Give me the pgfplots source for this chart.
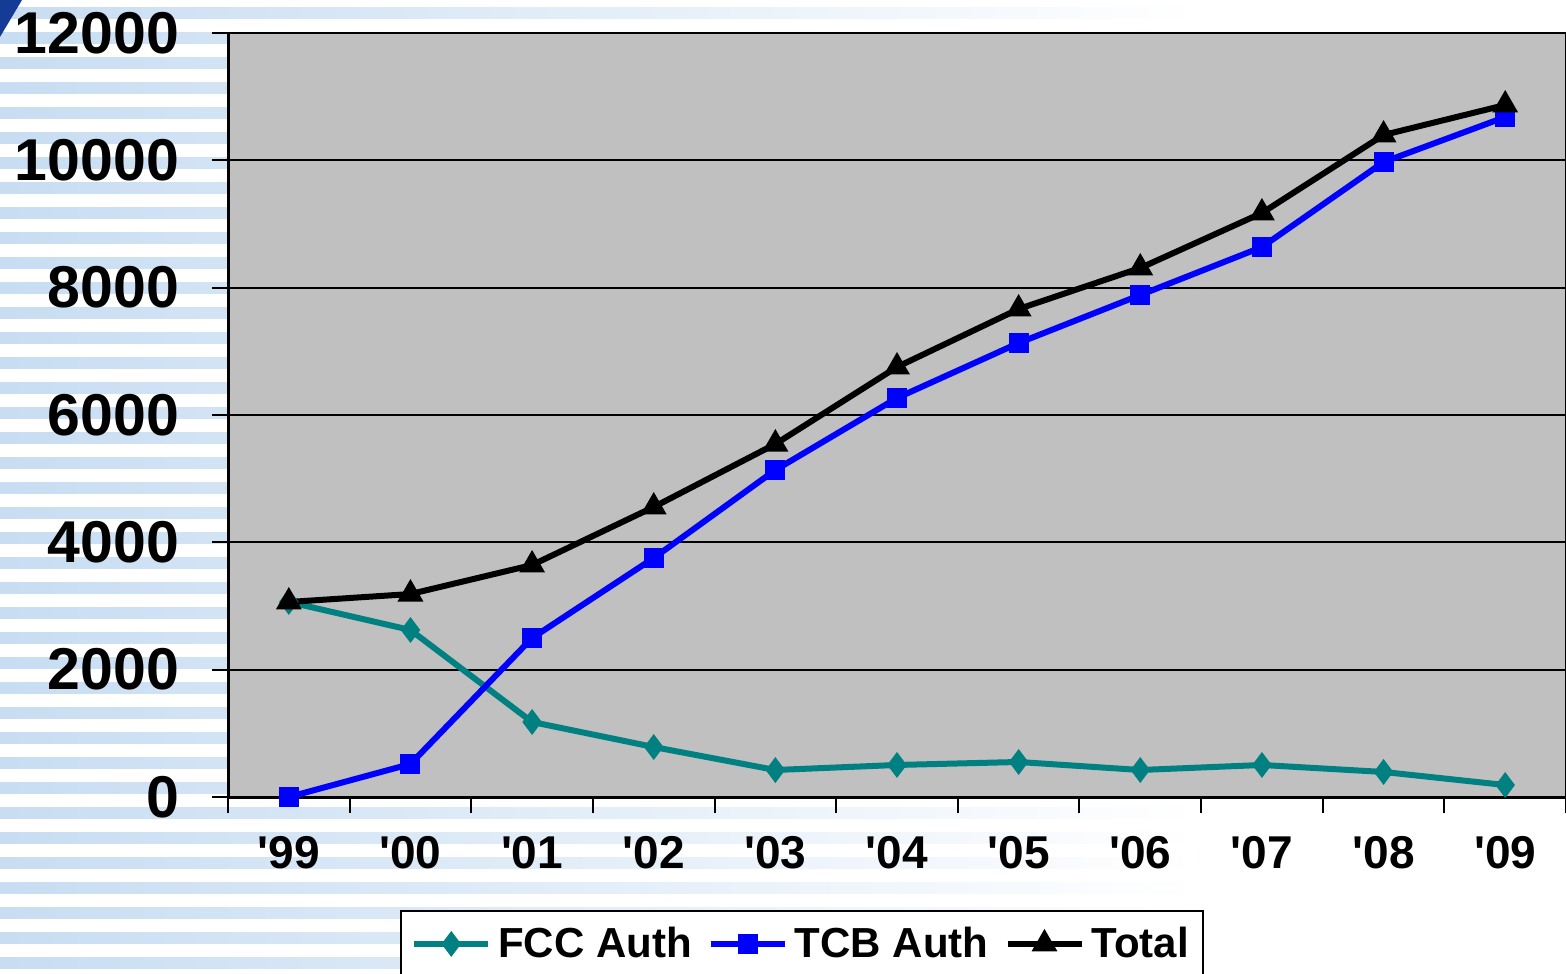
\documentclass[border=0pt]{standalone}
\usepackage{pgfplots}
\pgfplotsset{compat=1.18}
\usepackage{fontspec}
\setmainfont{Liberation Sans}
\definecolor{plotgray}{RGB}{192,192,192}
\definecolor{fcc}{RGB}{0,128,128}
\definecolor{tcb}{RGB}{0,0,255}
\definecolor{stripe}{RGB}{200,221,242}
\definecolor{cornerblue}{RGB}{20,60,150}
\newcommand\q{\textquotesingle}
\begin{document}
\begin{tikzpicture}
\useasboundingbox (0pt,0pt) rectangle (783pt,486.5pt);
\foreach \n in {0,...,38} {
  \shade[left color=stripe, right color=white] (0pt,{480pt-12.5pt*\n-2.6pt}) rectangle (600pt,{480pt-12.5pt*\n+2.6pt});
}
\fill[cornerblue] (0pt,486.5pt) -- (11pt,486.5pt) -- (0pt,468pt) -- cycle;
\begin{axis}[
  at={(114pt,88pt)}, anchor=south west,
  scale only axis, width=669pt, height=382pt,
  xmin=-0.5, xmax=10.5, ymin=0, ymax=12000,
  scaled y ticks=false,
  axis x line=bottom, axis y line=left,
  axis line style={-, black, line width=1.5pt},
  axis background/.style={fill=plotgray},
  xtick={-0.5,0.5,...,10.5}, xticklabels={},
  extra x ticks={0,1,2,3,4,5,6,7,8,9,10},
  extra x tick labels={\q99,\q00,\q01,\q02,\q03,\q04,\q05,\q06,\q07,\q08,\q09},
  extra x tick style={major tick length=0pt},
  ytick={0,2000,...,12000},
  ymajorgrids, grid style={black, line width=1pt},
  tick align=outside, major tick length=8pt,
  tick style={black, line width=1pt},
  yticklabel style={font=\fontsize{29.5}{31}\selectfont\bfseries, xshift=-13pt},
  xticklabel style={font=\fontsize{23}{25}\selectfont\bfseries, yshift=-16pt},
  /pgf/number format/1000 sep={},
  /pgf/number format/assume math mode=true,
  clip=false,
  legend columns=3,
  legend style={at={(0.1286,-0.1479)}, anchor=north west, draw=black, line width=1.2pt,
    font=\fontsize{21}{23}\selectfont\bfseries, inner xsep=5pt, inner ysep=6pt,
    /tikz/every even column/.append style={column sep=6pt},
    /tikz/every odd column/.append style={column sep=1.5pt}},
  legend image code/.code={\draw[mark repeat=2,mark phase=2,#1] plot coordinates {(0pt,0pt) (18.5pt,0pt) (37pt,0pt)};},
]
\addplot[color=fcc, line width=3pt, mark=diamond*, mark size=4pt, mark options={solid}] coordinates {
(0,3063) (1,2623) (2,1178) (3,785) (4,424) (5,503) (6,550) (7,424) (8,503) (9,393) (10,188)};
\addlegendentry{FCC Auth}
\addplot[color=tcb, line width=3pt, mark=square*, mark size=3.5pt] coordinates {
(0,0) (1,518) (2,2497) (3,3754) (4,5136) (5,6267) (6,7131) (7,7885) (8,8638) (9,9973) (10,10680)};
\addlegendentry{TCB Auth}
\addplot[color=black, line width=3pt, mark=triangle*, mark size=4.5pt] coordinates {
(0,3063) (1,3188) (2,3644) (3,4555) (4,5544) (5,6754) (6,7665) (7,8309) (8,9173) (9,10398) (10,10869)};
\addlegendentry{Total}
\draw[black, line width=0.6pt] (rel axis cs:1,0) -- (rel axis cs:1,1);
\end{axis}
\end{tikzpicture}
\end{document}
